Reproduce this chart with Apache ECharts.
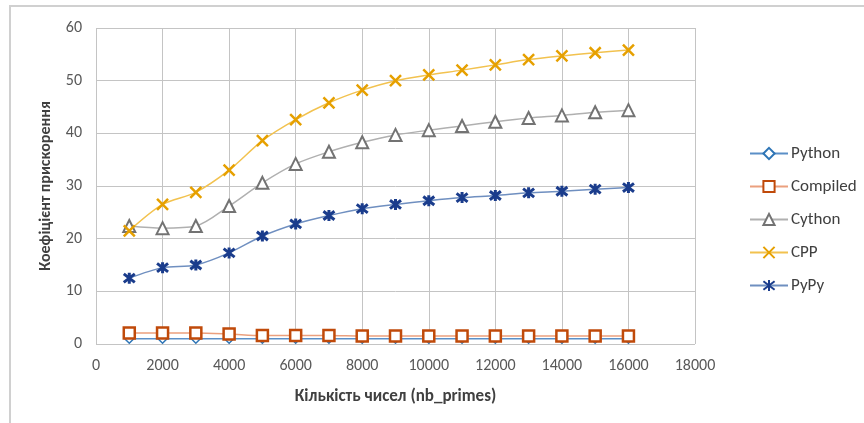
<!DOCTYPE html>
<html><head><meta charset="utf-8">
<script src="https://cdn.jsdelivr.net/npm/echarts@6/dist/echarts.min.js"></script>
<style>html,body{margin:0;padding:0;background:#fff}#c{width:864px;height:423px}</style>
</head><body><div id="c"></div>
<script>
const xValues = [1000,2000,3000,4000,5000,6000,7000,8000,9000,10000,11000,12000,13000,14000,15000,16000];
const python   = [1,1,1,1,1,1,1,1,1,1,1,1,1,1,1,1];
const compiled = [2.1,2.1,2.1,1.9,1.6,1.6,1.6,1.5,1.5,1.5,1.5,1.5,1.5,1.5,1.5,1.5];
const cython   = [22.4,22.0,22.4,26.2,30.6,34.2,36.5,38.3,39.7,40.6,41.4,42.2,42.9,43.4,44.0,44.4];
const cpp      = [21.5,26.5,28.8,33.0,38.6,42.6,45.8,48.2,50.0,51.1,52.0,53.0,54.0,54.7,55.3,55.8];
const pypy     = [12.5,14.5,15.0,17.3,20.5,22.8,24.4,25.7,26.5,27.2,27.8,28.2,28.7,29.0,29.4,29.7];
const seriesNames = ['Python','Compiled','Cython','CPP','PyPy'];
const xTitle = 'Кількість чисел (nb_primes)';
const yTitle = 'Коефіцієнт прискорення';

const pair = arr => xValues.map((x,i)=>[x,arr[i]]);
const font = 'Carlito, Calibri, "Open Sans", "Noto Sans", sans-serif';

const chart = echarts.init(document.getElementById('c'));
function mk(name, data, lineColor, symbol, size, fill, border, bw){
  return {name, type:'line', data:pair(data), smooth:0.3, symbol, symbolSize:size,
    lineStyle:{color:lineColor,width:1.5},
    itemStyle:{color:fill,borderColor:border,borderWidth:bw},
    emphasis:{disabled:true}, z:2};
}
chart.setOption({
  animation:false,
  textStyle:{fontFamily:font},
  graphic:[{type:'rect',shape:{x:10,y:6,width:900,height:500},style:{fill:'none',stroke:'#d0d0d0',lineWidth:2},silent:true}],
  grid:{left:96,top:28,width:599,height:316,show:false},
  legend:{orient:'vertical',left:749,top:145,padding:0,itemWidth:38,itemHeight:14,itemGap:16,
    textStyle:{fontSize:17,color:'#404040',fontFamily:font,padding:[0,0,0,-2]},
    data:seriesNames},
  xAxis:{type:'value',min:0,max:18000,interval:2000,
    name:xTitle,nameLocation:'middle',nameGap:44,
    nameTextStyle:{fontSize:17,fontWeight:'bold',color:'#404040'},
    axisLine:{show:false},axisTick:{show:false},
    axisLabel:{fontSize:16,color:'#595959',margin:14,formatter:v=>String(v)},
    splitLine:{show:true,lineStyle:{color:'#c4c4c4',width:1}}},
  yAxis:{type:'value',min:0,max:60,interval:10,
    name:yTitle,nameLocation:'middle',nameGap:42,
    nameTextStyle:{fontSize:16,fontWeight:'bold',color:'#404040'},
    axisLine:{show:false},axisTick:{show:false},
    axisLabel:{fontSize:16,color:'#595959',margin:14},
    splitLine:{show:true,lineStyle:{color:'#c4c4c4',width:1}}},
  series:[
    mk('Python',python,'#5b8fc7','diamond',9,'#ffffff','#2e75b6',1.5),
    mk('Compiled',compiled,'#eba07e','rect',11,'#ffffff','#c04a0a',2.5),
    mk('Cython',cython,'#b0b0b0','triangle',12,'#ffffff','#737373',2),
    mk('CPP',cpp,'#f2c24f','path://M0,0L10,10M10,0L0,10',11,'none','#e6a000',2.5),
    mk('PyPy',pypy,'#6f8fc0','path://M0,0L10,10M10,0L0,10M5,-1.5L5,11.5',11,'none','#1a3c8c',3)
  ]
});
</script></body></html>
